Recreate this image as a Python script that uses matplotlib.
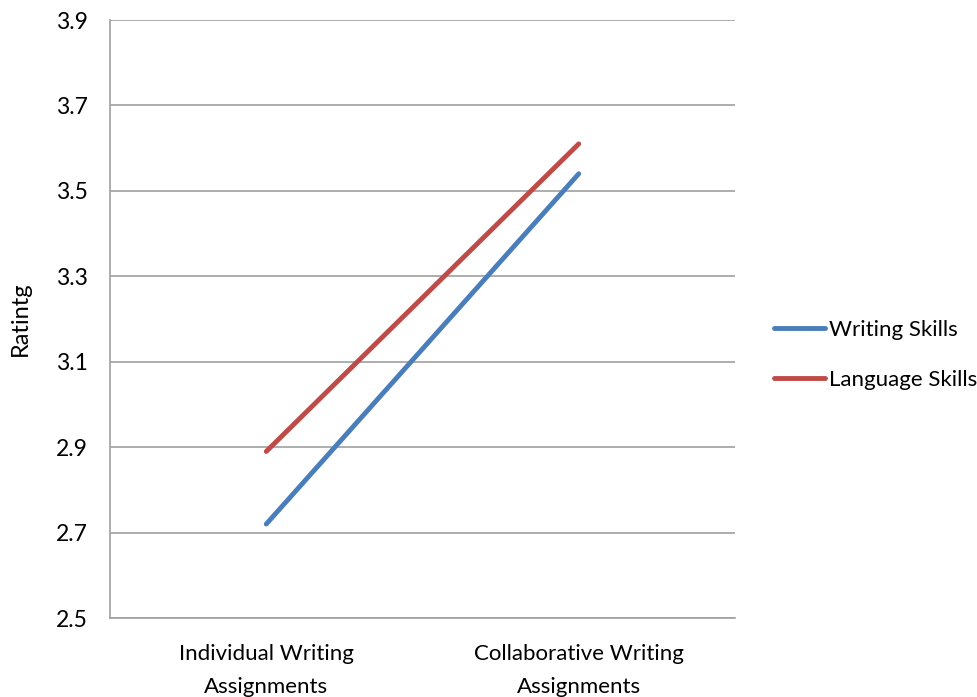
import matplotlib.pyplot as plt

categories = ["Individual Writing\nAssignments", "Collaborative Writing\nAssignments"]
writing_skills = [2.72, 3.54]
language_skills = [2.89, 3.61]
y_ticks = [2.5, 2.7, 2.9, 3.1, 3.3, 3.5, 3.7, 3.9]

plt.rcParams['font.family'] = ['Lato', 'DejaVu Sans']

fig = plt.figure(figsize=(9.78, 6.97), dpi=100)
ax = fig.add_axes([0.1125, 0.1133, 0.639, 0.858])

x = range(len(categories))
ax.plot(x, writing_skills, color="#4a7ebb", lw=3.5, solid_capstyle="round", label="Writing Skills")
ax.plot(x, language_skills, color="#be4b48", lw=3.5, solid_capstyle="round", label="Language Skills")

ax.set_xlim(-0.5, 1.5)
ax.set_ylim(2.5, 3.9)
ax.set_yticks(y_ticks)
ax.set_yticklabels([f"{v:.1f}" for v in y_ticks], fontsize=16.5)
ax.set_xticks(list(x))
ax.set_xticklabels(categories, fontsize=16, linespacing=1.8)
ax.tick_params(length=0)
ax.tick_params(axis='y', pad=16)
ax.tick_params(axis='x', pad=19)
ax.grid(axis='y', color="#a0a0a0", lw=1.2)
ax.set_axisbelow(True)
for side in ["top", "right"]:
    ax.spines[side].set_visible(False)
ax.spines["left"].set_color("#a0a0a0")
ax.spines["bottom"].set_color("#a0a0a0")
ax.spines["left"].set_linewidth(1.2)
ax.spines["bottom"].set_linewidth(1.2)

ax.set_ylabel("Ratintg", fontsize=17, labelpad=18)

ax.legend(loc="center left", bbox_to_anchor=(1.03, 0.44), frameon=False,
          fontsize=16, handlelength=2.3, handletextpad=0.2, labelspacing=1.35)

fig.savefig("out.png", dpi=100)
